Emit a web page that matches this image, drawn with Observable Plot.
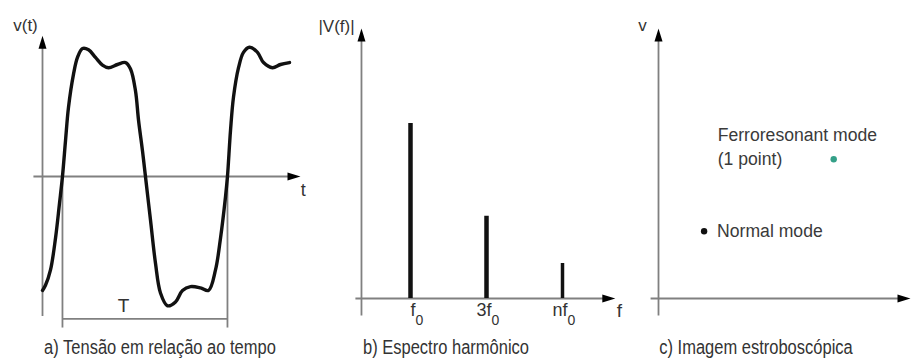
<!DOCTYPE html>
<html><head><meta charset="utf-8">
<script src="https://cdn.jsdelivr.net/npm/d3@7"></script>
<script src="https://cdn.jsdelivr.net/npm/@observablehq/plot@0.6"></script>
<style>
body{margin:0;background:#fff;}
#root{position:relative;width:912px;height:364px;overflow:hidden;background:#fff;}
.panel{position:absolute;top:0;}
.cap{position:absolute;top:336px;line-height:23px;font-family:"Liberation Sans",Arial,sans-serif;font-size:20px;color:#333;white-space:nowrap;transform:translateX(-50%) scaleX(0.825);transform-origin:50% 50%;}
</style></head>
<body><div id="root"></div>
<script>
// ---- Panel a: voltage vs time (t in ms, v in pu) ----
const waveT = [0, 0.36, 0.97, 1.58, 2.06, 2.42, 2.79, 3.15, 3.76, 4.24, 4.85, 5.58, 6.42, 7.27, 8.0, 9.09, 10.06, 10.67, 11.27, 11.64, 12.12, 12.48, 13.09, 13.70, 14.30, 15.15, 16.12, 16.97, 17.94, 19.15, 20.12, 20.97, 21.58, 22.18, 22.42, 22.79, 23.15, 23.76, 24.36, 25.09, 26.06, 26.79, 27.88, 28.85, 29.94];
const waveV = [-0.89, -0.85, -0.73, -0.48, -0.21, 0, 0.28, 0.54, 0.80, 0.93, 1.0, 0.99, 0.93, 0.87, 0.85, 0.875, 0.89, 0.84, 0.67, 0.44, 0.20, 0, -0.34, -0.68, -0.91, -1.01, -0.98, -0.89, -0.86, -0.87, -0.89, -0.73, -0.48, -0.16, 0, 0.36, 0.62, 0.85, 0.97, 1.01, 0.97, 0.89, 0.85, 0.875, 0.89];
const periodStart = 2.42, periodEnd = 22.42, periodLabel = "T";
const periodBracketV = -1.113, periodTickV = -1.18, periodLabelV = -1.01;
const axisA = {tMin: -1.1, tMax: 31.27, vMin: -1.09, vMax: 1.10};
const labelsA = ["v(t)", "t"];

// ---- Panel b: harmonic spectrum ----
const harmonicMain = ["f", "3f", "nf"];
const harmonicSub = ["0", "0", "0"];
const harmonicOrder = [1, 3, 5];
const harmonicAmp = [1.0, 0.47, 0.2];
const harmonicWidth = [4.5, 4.5, 3.5];
const axisB = {oMin: -0.45, oMax: 6.39, yAxisAt: -0.29, aMin: -0.097, aMax: 1.543};
const labelsB = ["|V(f)|", "f"];

// ---- Panel c: stroboscopic image ----
const modeNames = ["Normal mode", "Ferroresonant mode\n(1 point)"];
const modeF = [0.19, 0.73];
const modeV = [0.28, 0.58];
const modeColors = ["#111111", "#34a088"];
const axisC = {fMin: -0.033, fMax: 1.05, vMin: -0.071, vMax: 1.125};
const labelsC = ["v"];

const captions = ["a) Tensão em relação ao tempo", "b) Espectro harmônico", "c) Imagem estroboscópica"];

// ---- helpers ----
const GRAY = "#808080";
const REG = "'Liberation Sans',Arial,sans-serif";
const arrowUp = {draw(ctx){ctx.moveTo(0,0);ctx.lineTo(4,13);ctx.lineTo(-4,13);ctx.closePath();}};
const arrowRight = {draw(ctx){ctx.moveTo(0,0);ctx.lineTo(-13,4);ctx.lineTo(-13,-4);ctx.closePath();}};
const root = document.getElementById("root");
function place(svg, left){ svg.classList.add("panel"); svg.style.left = left + "px"; root.appendChild(svg); }

// Panel a
const wave = waveT.map((t, i) => ({t, v: waveV[i]}));
const plotA = Plot.plot({
  width: 312, height: 364, margin: 0,
  style: {background: "transparent", overflow: "visible", fontFamily: REG},
  x: {axis: null, domain: [0, 20], range: [42, 207]},
  y: {axis: null, domain: [-1, 1], range: [304, 48]},
  marks: [
    Plot.link([0], {x1: axisA.tMin, x2: axisA.tMax - 1.2, y1: 0, y2: 0, stroke: GRAY, strokeWidth: 1.8}),
    Plot.link([0], {x1: 0, x2: 0, y1: axisA.vMin, y2: axisA.vMax - 0.08, stroke: GRAY, strokeWidth: 1.8}),
    Plot.dot([0], {x: 0, y: axisA.vMax, symbol: arrowUp, fill: "#000"}),
    Plot.dot([0], {x: axisA.tMax, y: 0, symbol: arrowRight, fill: "#000"}),
    Plot.link([periodStart, periodEnd], {x1: d => d, x2: d => d, y1: 0, y2: periodTickV, stroke: GRAY, strokeWidth: 1.8}),
    Plot.link([0], {x1: periodStart, x2: periodEnd, y1: periodBracketV, y2: periodBracketV, stroke: GRAY, strokeWidth: 1.8}),
    Plot.line(wave, {x: "t", y: "v", curve: "catmull-rom", stroke: "#111", strokeWidth: 3.4}),
    Plot.text([periodLabel], {x: (periodStart + periodEnd) / 2 - 2.6, y: periodLabelV, text: d => d, fontSize: 19, fill: "#333"}),
    Plot.text([labelsA[0]], {x: -2.06, y: 1.18, text: d => d, fontSize: 17, fill: "#333"}),
    Plot.text([labelsA[1]], {x: 31.6, y: -0.11, text: d => d, fontSize: 18, fill: "#333"})
  ]
});
place(plotA, 0);

// Panel b
const spectrum = harmonicMain.map((m, i) => ({m, s: harmonicSub[i], o: harmonicOrder[i], a: harmonicAmp[i], w: harmonicWidth[i]}));
const plotB = Plot.plot({
  width: 316, height: 364, margin: 0,
  style: {background: "transparent", overflow: "visible", fontFamily: REG},
  x: {axis: null, domain: [1, 5], range: [98, 250]},
  y: {axis: null, domain: [0, 1], range: [298, 123]},
  marks: [
    Plot.link([0], {x1: axisB.oMin, x2: axisB.oMax - 0.3, y1: 0, y2: 0, stroke: GRAY, strokeWidth: 1.8}),
    Plot.link([0], {x1: axisB.yAxisAt, x2: axisB.yAxisAt, y1: axisB.aMin, y2: axisB.aMax - 0.06, stroke: GRAY, strokeWidth: 1.8}),
    Plot.dot([0], {x: axisB.yAxisAt, y: axisB.aMax, symbol: arrowUp, fill: "#000"}),
    Plot.dot([0], {x: axisB.oMax, y: 0, symbol: arrowRight, fill: "#000"}),
    ...spectrum.map(d => Plot.ruleX([d], {x: "o", y1: 0, y2: "a", stroke: "#111", strokeWidth: d.w})),
    Plot.text(spectrum, {x: "o", y: -0.069, text: "m", textAnchor: "end", dx: 5, fontSize: 18, fill: "#333"}),
    Plot.text(spectrum, {x: "o", y: -0.125, text: "s", textAnchor: "start", dx: 5, fontSize: 14, fill: "#333"}),
    Plot.text([labelsB[0]], {x: -0.947, y: 1.554, text: d => d, fontSize: 17, fill: "#333"}),
    Plot.text([labelsB[1]], {x: 6.5, y: -0.069, text: d => d, fontSize: 19, fill: "#333"})
  ]
});
place(plotB, 312);

// Panel c
const modes = modeNames.map((name, i) => ({name, f: modeF[i], v: modeV[i], c: modeColors[i]}));
const plotC = Plot.plot({
  width: 284, height: 364, margin: 0,
  style: {background: "transparent", overflow: "visible", fontFamily: REG},
  x: {axis: null, domain: [0, 1], range: [30, 270]},
  y: {axis: null, domain: [0, 1], range: [298, 58]},
  marks: [
    Plot.link([0], {x1: axisC.fMin, x2: axisC.fMax - 0.04, y1: 0, y2: 0, stroke: GRAY, strokeWidth: 1.8}),
    Plot.link([0], {x1: 0, x2: 0, y1: axisC.vMin, y2: axisC.vMax - 0.04, stroke: GRAY, strokeWidth: 1.8}),
    Plot.dot([0], {x: 0, y: axisC.vMax, symbol: arrowUp, fill: "#000"}),
    Plot.dot([0], {x: axisC.fMax, y: 0, symbol: arrowRight, fill: "#000"}),
    Plot.dot(modes, {x: "f", y: "v", r: 3.2, fill: "c"}),
    Plot.text([modes[0]], {x: "f", y: "v", text: "name", textAnchor: "start", dx: 13, fontSize: 17.6, fill: "#3a3a3a"}),
    Plot.text([modes[1]], {x: "f", y: "v", text: "name", textAnchor: "start", dx: -116, dy: -14, lineHeight: 1.38, fontSize: 17.6, fill: "#3a3a3a"}),
    Plot.text([labelsC[0]], {x: -0.067, y: 1.1375, text: d => d, fontSize: 17, fill: "#333"})
  ]
});
place(plotC, 628);

// Captions
const capX = [160, 446, 756];
captions.forEach((c, i) => {
  const d = document.createElement("div");
  d.className = "cap"; d.textContent = c; d.style.left = capX[i] + "px";
  root.appendChild(d);
});
</script>
</body></html>
